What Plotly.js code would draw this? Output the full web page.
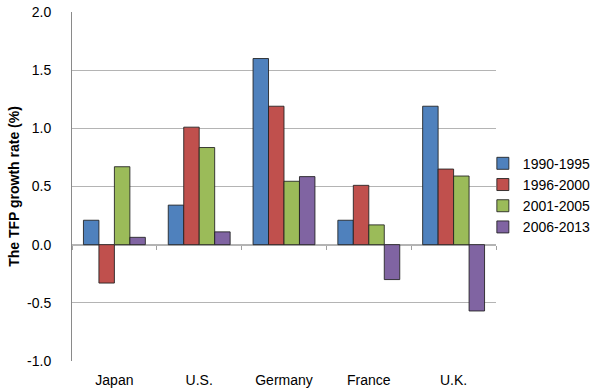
<!DOCTYPE html>
<html>
<head>
<meta charset="utf-8">
<script src="https://cdn.plot.ly/plotly-3.0.1.min.js"></script>
<style>html,body{margin:0;padding:0;background:#fff;}#chart{width:600px;height:392px;}</style>
</head>
<body>
<div id="chart"></div>
<script>
var countries = ["Japan", "U.S.", "Germany", "France", "U.K."];
var periods = ["1990-1995", "1996-2000", "2001-2005", "2006-2013"];
var v1990_1995 = [0.21, 0.34, 1.60, 0.21, 1.19];
var v1996_2000 = [-0.33, 1.01, 1.19, 0.51, 0.65];
var v2001_2005 = [0.67, 0.835, 0.545, 0.17, 0.59];
var v2006_2013 = [0.063, 0.11, 0.585, -0.30, -0.57];
var colors = ["#4F81BD", "#C0504D", "#9BBB59", "#8064A2"];
var yTickVals = [-1.0, -0.5, 0.0, 0.5, 1.0, 1.5, 2.0];
var yTickText = ["-1.0", "-0.5", "0.0", "0.5", "1.0", "1.5", "2.0"];
var boundaryTicks = [-0.5, 0.5, 1.5, 2.5, 3.5, 4.5];

var series = [v1990_1995, v1996_2000, v2001_2005, v2006_2013];
var traces = series.map(function (vals, i) {
  return {
    type: "bar",
    name: periods[i],
    x: countries,
    y: vals,
    marker: { color: colors[i], line: { color: "rgba(30,30,30,0.85)", width: 1 } },
    hoverinfo: "x+y+name"
  };
});
// invisible helper trace on the overlay axis that carries the category-boundary ticks
traces.push({
  type: "scatter", mode: "markers", x: [null], y: [null],
  xaxis: "x2", yaxis: "y", showlegend: false, hoverinfo: "skip"
});

var layout = {
  width: 600, height: 392,
  margin: { l: 72, r: 104, t: 12, b: 31, autoexpand: false },
  paper_bgcolor: "#fff", plot_bgcolor: "#fff",
  font: { family: "Liberation Sans, Arial, sans-serif", size: 14, color: "#000" },
  barmode: "group",
  bargap: 0.27,
  bargroupgap: 0,
  showlegend: true,
  legend: {
    x: 0.969, xanchor: "left", y: 0.475, yanchor: "middle",
    font: { size: 14, color: "#000" },
    tracegroupgap: 0, itemwidth: 30,
    bgcolor: "rgba(0,0,0,0)"
  },
  xaxis: {
    type: "category",
    showgrid: false, showline: false, zeroline: false,
    ticks: "", ticklabelstandoff: 9,
    tickfont: { size: 14, color: "#000" },
    automargin: false,
    fixedrange: true
  },
  xaxis2: {
    overlaying: "x", anchor: "free", position: 1 / 3,
    type: "linear", range: [-0.5, 4.5],
    tickmode: "array", tickvals: boundaryTicks,
    ticks: "outside", ticklen: 4, tickcolor: "#a0a0a0", tickwidth: 1,
    showticklabels: false, showgrid: false, zeroline: false, showline: false,
    automargin: false
  },
  yaxis: {
    range: [-1.0, 2.0],
    tickmode: "array", tickvals: yTickVals, ticktext: yTickText,
    showgrid: true, gridcolor: "#b4b4b4", gridwidth: 1,
    zeroline: true, zerolinecolor: "#b4b4b4", zerolinewidth: 2,
    showline: true, linecolor: "#8a8a8a", linewidth: 1,
    ticks: "", ticklabelstandoff: 17,
    tickfont: { size: 14, color: "#000" },
    title: { text: "<b>The TFP growth rate (%)</b>", font: { size: 14, color: "#000" }, standoff: 4 },
    automargin: false,
    fixedrange: true
  }
};

Plotly.newPlot("chart", traces, layout, { displayModeBar: false, staticPlot: true });
</script>
</body>
</html>
